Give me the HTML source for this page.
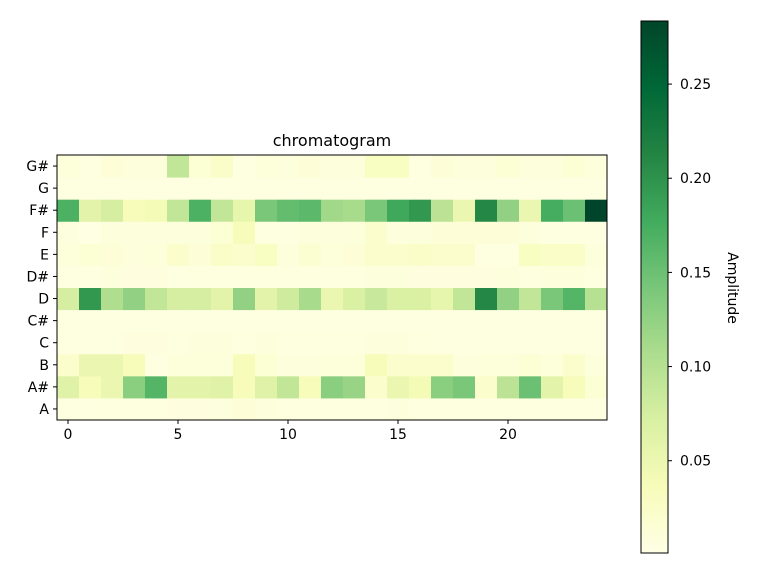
<!DOCTYPE html>
<html><head><meta charset="utf-8"><style>
body{margin:0;background:#fff;}
svg text{font-family:"DejaVu Sans","Liberation Sans",sans-serif;fill:#000;}
</style></head><body>
<svg id="chart" width="768" height="576" xmlns="http://www.w3.org/2000/svg">
<defs><linearGradient id="cbg" x1="0" y1="1" x2="0" y2="0"></linearGradient></defs>
<text x="332" y="146" font-size="16" text-anchor="middle">chromatogram</text>
<g id="cells"></g><g id="axes"></g><g id="cbar"></g>
</svg>
<script>
const notes = ["A","A#","B","C","C#","D","D#","E","F","F#","G","G#"];
const frames = [0,5,10,15,20];
const cbTicks = [0.05,0.10,0.15,0.20,0.25];
const rowA  = [0.005,0.005,0.006,0.006,0.006,0.007,0.007,0.008,0.012,0.008,0.006,0.006,0.006,0.006,0.006,0.008,0.006,0.006,0.006,0.006,0.006,0.006,0.006,0.006,0.006];
const rowAs = [0.065,0.035,0.05,0.13,0.165,0.06,0.06,0.065,0.035,0.065,0.09,0.035,0.13,0.12,0.02,0.05,0.04,0.13,0.14,0.02,0.095,0.15,0.06,0.035,0.015];
const rowB  = [0.02,0.05,0.05,0.035,0.005,0.01,0.01,0.01,0.035,0.015,0.008,0.008,0.01,0.01,0.035,0.02,0.02,0.02,0.008,0.01,0.01,0.015,0.01,0.02,0.008];
const rowC  = [0.004,0.004,0.004,0.007,0.007,0.006,0.008,0.008,0.006,0.009,0.006,0.006,0.006,0.006,0.008,0.009,0.006,0.005,0.005,0.005,0.005,0.005,0.005,0.005,0.005];
const rowCs = [0.004,0.004,0.004,0.004,0.004,0.004,0.004,0.004,0.004,0.004,0.004,0.004,0.004,0.004,0.004,0.004,0.004,0.004,0.004,0.004,0.004,0.004,0.004,0.004,0.004];
const rowD  = [0.075,0.195,0.105,0.125,0.09,0.075,0.075,0.06,0.125,0.06,0.08,0.11,0.05,0.07,0.085,0.07,0.07,0.055,0.09,0.21,0.125,0.09,0.14,0.165,0.1];
const rowDs = [0.005,0.005,0.008,0.007,0.007,0.005,0.006,0.006,0.006,0.006,0.006,0.006,0.006,0.006,0.008,0.008,0.007,0.007,0.007,0.007,0.008,0.006,0.008,0.008,0.006];
const rowE  = [0.01,0.015,0.012,0.008,0.01,0.02,0.012,0.025,0.02,0.03,0.008,0.018,0.01,0.012,0.02,0.02,0.025,0.02,0.02,0.005,0.005,0.03,0.025,0.025,0.008];
const rowF  = [0.008,0.003,0.008,0.008,0.008,0.008,0.008,0.015,0.035,0.005,0.005,0.008,0.008,0.008,0.02,0.008,0.008,0.012,0.012,0.012,0.012,0.008,0.005,0.005,0.005];
const rowFs = [0.17,0.06,0.075,0.035,0.04,0.09,0.17,0.09,0.055,0.14,0.155,0.16,0.115,0.11,0.14,0.18,0.195,0.095,0.05,0.21,0.125,0.05,0.175,0.15,0.283];
const rowG  = [0.005,0.005,0.005,0.005,0.005,0.005,0.005,0.005,0.005,0.005,0.005,0.005,0.005,0.005,0.005,0.005,0.005,0.005,0.005,0.005,0.005,0.005,0.005,0.005,0.005];
const rowGs = [0.01,0.005,0.012,0.008,0.008,0.09,0.015,0.025,0.005,0.01,0.008,0.012,0.008,0.008,0.03,0.03,0.005,0.012,0.008,0.008,0.015,0.008,0.008,0.015,0.008];
const rows = [rowA,rowAs,rowB,rowC,rowCs,rowD,rowDs,rowE,rowF,rowFs,rowG,rowGs];
const vmin=0.001, vmax=0.2835;
const NS="http://www.w3.org/2000/svg";
const stops=["#ffffe5","#f7fcb9","#d9f0a3","#addd8e","#78c679","#41ab5d","#238443","#006837","#004529"];
function hex(h){return [1,3,5].map(i=>parseInt(h.substr(i,2),16));}
function cmap(v){let t=Math.max(0,Math.min(1,(v-vmin)/(vmax-vmin)))*8;let i=Math.min(7,Math.floor(t));let f=t-i;let a=hex(stops[i]),b=hex(stops[i+1]);return "rgb("+a.map((x,k)=>Math.round(x+(b[k]-x)*f)).join(",")+")";}
const L=57,R=607,T=155,B=420,nc=25,nr=12;
const cw=(R-L)/nc,rh=(B-T)/nr;
const xCol=i=>L+i*cw; const yRow=r=>B-(r+1)*rh;
function mk(tag,attrs,parent){const e=document.createElementNS(NS,tag);for(const k in attrs)e.setAttribute(k,attrs[k]);parent.appendChild(e);return e;}
const cells=document.getElementById('cells');
rows.forEach((row,r)=>row.forEach((v,c)=>{
 const e=mk('rect',{x:xCol(c),y:yRow(r),width:cw+0.5,height:rh+0.5,fill:cmap(v)},cells);
 
 
}));
const ax=document.getElementById('axes');
const fr=mk('rect',{x:L,y:T,width:R-L,height:B-T,fill:'none',stroke:'#000','stroke-width':1},ax);


notes.forEach((n,r)=>{const y=yRow(r)+rh/2;
 mk('line',{x1:L-4,x2:L,y1:y,y2:y,stroke:'#000'},ax);
 const t=mk('text',{x:L-8,y:y+5,'font-size':14,'text-anchor':'end'},ax);t.textContent=n;
 
 
});
frames.forEach(f=>{const x=xCol(f)+cw/2;
 mk('line',{x1:x,x2:x,y1:B,y2:B+4,stroke:'#000'},ax);
 const t=mk('text',{x:x,y:B+19,'font-size':14,'text-anchor':'middle'},ax);t.textContent=f;
 
 
});
const cb=document.getElementById('cbar');
const g=document.getElementById('cbg');
stops.forEach((s,i)=>mk('stop',{offset:(i/8),'stop-color':s},g));
const CT=21,CB=553,CL=641,CR=668;
const cy=v=>CB-(v-vmin)/(vmax-vmin)*(CB-CT);
const cr=mk('rect',{x:CL,y:CT,width:CR-CL,height:CB-CT,fill:'url(#cbg)',stroke:'#000','stroke-width':1},cb);


cbTicks.forEach(v=>{const y=cy(v);
 mk('line',{x1:CR,x2:CR+4,y1:y,y2:y,stroke:'#000'},cb);
 const t=mk('text',{x:CR+12,y:y+5,'font-size':14},cb);t.textContent=v.toFixed(2);
 
 
});
const lab=mk('text',{x:0,y:0,'font-size':14,'text-anchor':'middle',transform:'translate(728,288) rotate(90)'},cb);
lab.textContent='Amplitude';


</script>
</body></html>
